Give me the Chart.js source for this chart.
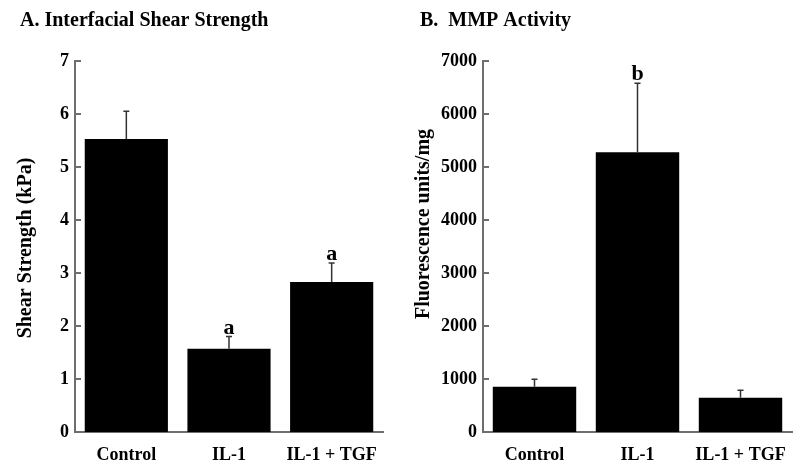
<!DOCTYPE html>
<html>
<head>
<meta charset="utf-8">
<script src="https://cdn.jsdelivr.net/npm/chart.js@4/dist/chart.umd.min.js"></script>
<style>
  body { margin: 0; background: #fff; }
  .panel { position: absolute; top: 0; width: 400px; height: 475px; }
</style>
</head>
<body>
<div class="panel" style="left:0"><canvas id="shearCanvas" width="400" height="475"></canvas></div>
<div class="panel" style="left:400px"><canvas id="mmpCanvas" width="400" height="475"></canvas></div>
<script>
const categories = ["Control", "IL-1", "IL-1 + TGF"];

const shearMean = [5.53, 1.57, 2.83];
const shearErr = [0.52, 0.23, 0.36];
const shearLetters = ["", "a", "a"];
const shearTicks = [0, 1, 2, 3, 4, 5, 6, 7];

const mmpMean = [855, 5280, 647];
const mmpErr = [140, 1300, 140];
const mmpLetters = ["", "b", ""];
const mmpTicks = [0, 1000, 2000, 3000, 4000, 5000, 6000, 7000];

const serif = "'Liberation Serif', 'Times New Roman', serif";
const axisGrey = "#6e6e6e";

// error bars, letters, inward ticks, titles
const extras = {
  id: "extras",
  afterDatasetsDraw(chart, args, opts) {
    const ctx = chart.ctx;
    const x = chart.scales.x, y = chart.scales.y;
    ctx.save();
    opts.mean.forEach((m, i) => {
      const cx = x.getPixelForValue(i);
      const top = y.getPixelForValue(m + opts.err[i]);
      const base = y.getPixelForValue(m);
      ctx.strokeStyle = "#333";
      ctx.lineWidth = 1.5;
      ctx.beginPath();
      ctx.moveTo(cx, base);
      ctx.lineTo(cx, top);
      ctx.moveTo(cx - 3, top);
      ctx.lineTo(cx + 3, top);
      ctx.stroke();
      if (opts.letters[i]) {
        ctx.fillStyle = "#000";
        ctx.font = "bold 22px " + serif;
        ctx.textAlign = "center";
        ctx.textBaseline = "alphabetic";
        ctx.fillText(opts.letters[i], cx, top - 3);
      }
    });
    // ticks pointing into the plot
    ctx.strokeStyle = axisGrey;
    ctx.lineWidth = 2;
    y.ticks.forEach(t => {
      const py = y.getPixelForValue(t.value);
      ctx.beginPath();
      ctx.moveTo(chart.chartArea.left, py);
      ctx.lineTo(chart.chartArea.left + 6, py);
      ctx.stroke();
    });
    // panel title
    ctx.fillStyle = "#000";
    ctx.font = "bold 20px " + serif;
    ctx.textAlign = "left";
    ctx.fillText(opts.title, opts.titleX, 26);
    // y axis title
    ctx.translate(opts.yTitleX, opts.yTitleY);
    ctx.rotate(-Math.PI / 2);
    ctx.textAlign = "center";
    ctx.textBaseline = "middle";
    ctx.fillText(opts.yTitle, 0, 0);
    ctx.restore();
  }
};

function makeChart(canvas, mean, err, letters, ticks, yWidth, rightPad, extraOpts) {
  return new Chart(canvas, {
    type: "bar",
    data: {
      labels: categories,
      datasets: [{
        data: mean,
        backgroundColor: "#000",
        borderWidth: 0,
        categoryPercentage: 1,
        barPercentage: 0.81
      }]
    },
    options: {
      responsive: false,
      animation: false,
      layout: { padding: { top: 61, right: rightPad, left: 0, bottom: 0 } },
      plugins: {
        legend: { display: false },
        tooltip: { enabled: false },
        extras: Object.assign({ mean: mean, err: err, letters: letters }, extraOpts)
      },
      scales: {
        x: {
          grid: { display: false, drawTicks: false },
          border: { color: axisGrey, width: 2 },
          ticks: { color: "#000", font: { family: serif, size: 18, weight: "bold" }, padding: 13 },
          afterFit: s => { s.height = 43; }
        },
        y: {
          min: ticks[0],
          max: ticks[ticks.length - 1],
          afterBuildTicks: s => { s.ticks = ticks.map(v => ({ value: v })); },
          grid: { display: false, drawTicks: false },
          border: { color: axisGrey, width: 2 },
          ticks: {
            color: "#000",
            font: { family: serif, size: 18, weight: "bold" },
            padding: 6,
            callback: v => String(v)
          },
          afterFit: s => { s.width = yWidth; }
        }
      }
    },
    plugins: [extras]
  });
}

makeChart(document.getElementById("shearCanvas"), shearMean, shearErr, shearLetters, shearTicks, 75, 17,
  { title: "A. Interfacial Shear Strength", titleX: 20, yTitle: "Shear Strength (kPa)", yTitleX: 26, yTitleY: 248 });

makeChart(document.getElementById("mmpCanvas"), mmpMean, mmpErr, mmpLetters, mmpTicks, 83, 8,
  { title: "B.  MMP Activity", titleX: 20, yTitle: "Fluorescence units/mg", yTitleX: 24, yTitleY: 224 });
</script>
</body>
</html>
